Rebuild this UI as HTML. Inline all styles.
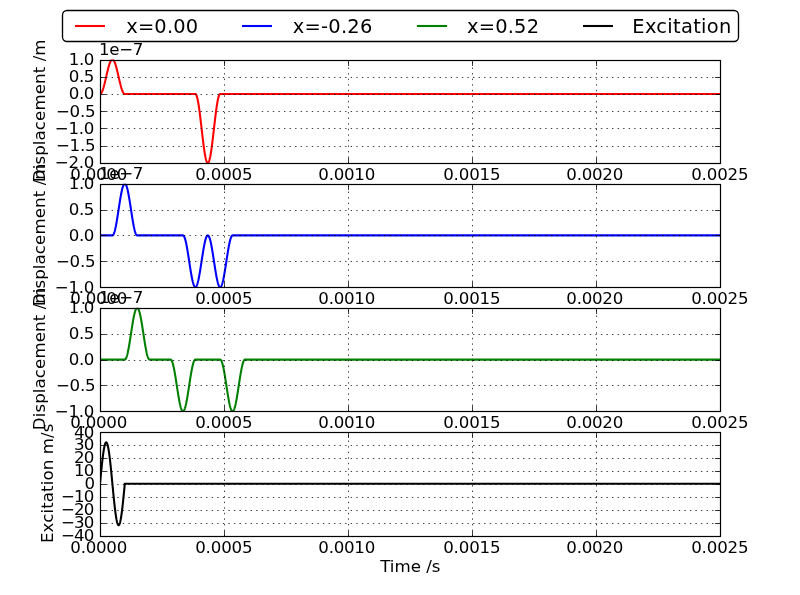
<!DOCTYPE html>
<html><head><meta charset="utf-8"><title>Displacement plot</title>
<style>html,body{margin:0;padding:0;background:#fff;}svg{display:block;}</style></head>
<body>
<svg width="800" height="595" viewBox="0 0 800 595" font-family="'DejaVu Sans','Liberation Sans',sans-serif" font-size="16.67px" fill="#000">
<rect width="800" height="595" fill="#fff"/>
<clipPath id="c0"><rect x="100.0" y="59.50" width="620.0" height="103.48"/></clipPath>
<path d="M100.00,93.99 L100.12,93.98 L100.25,93.96 L100.37,93.92 L100.50,93.86 L100.62,93.78 L100.74,93.69 L100.87,93.58 L100.99,93.45 L101.12,93.31 L101.24,93.15 L101.36,92.97 L101.49,92.78 L101.61,92.57 L101.74,92.35 L101.86,92.11 L101.98,91.86 L102.11,91.59 L102.23,91.31 L102.36,91.01 L102.48,90.70 L102.60,90.37 L102.73,90.03 L102.85,89.68 L102.98,89.32 L103.10,88.94 L103.22,88.55 L103.35,88.15 L103.47,87.74 L103.60,87.32 L103.72,86.88 L103.84,86.44 L103.97,85.99 L104.09,85.53 L104.22,85.05 L104.34,84.58 L104.46,84.09 L104.59,83.60 L104.71,83.10 L104.84,82.59 L104.96,82.08 L105.08,81.56 L105.21,81.04 L105.33,80.51 L105.46,79.98 L105.58,79.44 L105.70,78.91 L105.83,78.37 L105.95,77.83 L106.08,77.29 L106.20,76.75 L106.32,76.20 L106.45,75.66 L106.57,75.12 L106.70,74.58 L106.82,74.05 L106.94,73.51 L107.07,72.98 L107.19,72.46 L107.32,71.93 L107.44,71.42 L107.56,70.90 L107.69,70.40 L107.81,69.90 L107.94,69.40 L108.06,68.92 L108.18,68.44 L108.31,67.97 L108.43,67.51 L108.56,67.05 L108.68,66.61 L108.80,66.18 L108.93,65.75 L109.05,65.34 L109.18,64.94 L109.30,64.55 L109.42,64.17 L109.55,63.81 L109.67,63.46 L109.80,63.12 L109.92,62.79 L110.04,62.48 L110.17,62.18 L110.29,61.90 L110.42,61.63 L110.54,61.38 L110.66,61.14 L110.79,60.92 L110.91,60.71 L111.04,60.52 L111.16,60.34 L111.28,60.18 L111.41,60.04 L111.53,59.92 L111.66,59.81 L111.78,59.71 L111.90,59.64 L112.03,59.58 L112.15,59.53 L112.28,59.51 L112.40,59.50 L112.52,59.51 L112.65,59.53 L112.77,59.58 L112.90,59.64 L113.02,59.71 L113.14,59.81 L113.27,59.92 L113.39,60.04 L113.52,60.18 L113.64,60.34 L113.76,60.52 L113.89,60.71 L114.01,60.92 L114.14,61.14 L114.26,61.38 L114.38,61.63 L114.51,61.90 L114.63,62.18 L114.76,62.48 L114.88,62.79 L115.00,63.12 L115.13,63.46 L115.25,63.81 L115.38,64.17 L115.50,64.55 L115.62,64.94 L115.75,65.34 L115.87,65.75 L116.00,66.18 L116.12,66.61 L116.24,67.05 L116.37,67.51 L116.49,67.97 L116.62,68.44 L116.74,68.92 L116.86,69.40 L116.99,69.90 L117.11,70.40 L117.24,70.90 L117.36,71.42 L117.48,71.93 L117.61,72.46 L117.73,72.98 L117.86,73.51 L117.98,74.05 L118.10,74.58 L118.23,75.12 L118.35,75.66 L118.48,76.20 L118.60,76.75 L118.72,77.29 L118.85,77.83 L118.97,78.37 L119.10,78.91 L119.22,79.44 L119.34,79.98 L119.47,80.51 L119.59,81.04 L119.72,81.56 L119.84,82.08 L119.96,82.59 L120.09,83.10 L120.21,83.60 L120.34,84.09 L120.46,84.58 L120.58,85.05 L120.71,85.53 L120.83,85.99 L120.96,86.44 L121.08,86.88 L121.20,87.32 L121.33,87.74 L121.45,88.15 L121.58,88.55 L121.70,88.94 L121.82,89.32 L121.95,89.68 L122.07,90.03 L122.20,90.37 L122.32,90.70 L122.44,91.01 L122.57,91.31 L122.69,91.59 L122.82,91.86 L122.94,92.11 L123.06,92.35 L123.19,92.57 L123.31,92.78 L123.44,92.97 L123.56,93.15 L123.68,93.31 L123.81,93.45 L123.93,93.58 L124.06,93.69 L124.18,93.78 L124.30,93.86 L124.43,93.92 L124.55,93.96 L124.68,93.98 L124.80,93.99 L195.36,93.99 L195.48,94.00 L195.60,94.05 L195.73,94.12 L195.85,94.23 L195.98,94.38 L196.10,94.56 L196.22,94.77 L196.35,95.02 L196.47,95.29 L196.60,95.60 L196.72,95.95 L196.84,96.32 L196.97,96.73 L197.09,97.17 L197.22,97.64 L197.34,98.14 L197.46,98.67 L197.59,99.23 L197.71,99.82 L197.84,100.43 L197.96,101.08 L198.08,101.75 L198.21,102.45 L198.33,103.17 L198.46,103.92 L198.58,104.69 L198.70,105.49 L198.83,106.31 L198.95,107.15 L199.08,108.01 L199.20,108.89 L199.32,109.79 L199.45,110.71 L199.57,111.65 L199.70,112.60 L199.82,113.57 L199.94,114.56 L200.07,115.56 L200.19,116.57 L200.32,117.59 L200.44,118.62 L200.56,119.67 L200.69,120.72 L200.81,121.78 L200.94,122.84 L201.06,123.91 L201.18,124.99 L201.31,126.07 L201.43,127.15 L201.56,128.24 L201.68,129.32 L201.80,130.40 L201.93,131.48 L202.05,132.56 L202.18,133.63 L202.30,134.70 L202.42,135.77 L202.55,136.82 L202.67,137.87 L202.80,138.91 L202.92,139.93 L203.04,140.95 L203.17,141.95 L203.29,142.95 L203.42,143.92 L203.54,144.88 L203.66,145.83 L203.79,146.76 L203.91,147.67 L204.04,148.56 L204.16,149.43 L204.28,150.28 L204.41,151.11 L204.53,151.91 L204.66,152.70 L204.78,153.46 L204.90,154.19 L205.03,154.90 L205.15,155.59 L205.28,156.24 L205.40,156.87 L205.52,157.47 L205.65,158.05 L205.77,158.59 L205.90,159.10 L206.02,159.59 L206.14,160.04 L206.27,160.46 L206.39,160.85 L206.52,161.21 L206.64,161.54 L206.76,161.83 L206.89,162.09 L207.01,162.32 L207.14,162.51 L207.26,162.67 L207.38,162.80 L207.51,162.89 L207.63,162.95 L207.76,162.98 L207.88,162.97 L208.00,162.92 L208.13,162.85 L208.25,162.74 L208.38,162.59 L208.50,162.41 L208.62,162.20 L208.75,161.96 L208.87,161.68 L209.00,161.37 L209.12,161.02 L209.24,160.65 L209.37,160.24 L209.49,159.80 L209.62,159.33 L209.74,158.83 L209.86,158.30 L209.99,157.74 L210.11,157.15 L210.24,156.54 L210.36,155.89 L210.48,155.22 L210.61,154.52 L210.73,153.80 L210.86,153.05 L210.98,152.28 L211.10,151.48 L211.23,150.66 L211.35,149.82 L211.48,148.96 L211.60,148.08 L211.72,147.18 L211.85,146.26 L211.97,145.32 L212.10,144.37 L212.22,143.40 L212.34,142.41 L212.47,141.42 L212.59,140.40 L212.72,139.38 L212.84,138.35 L212.96,137.31 L213.09,136.25 L213.21,135.19 L213.34,134.13 L213.46,133.06 L213.58,131.98 L213.71,130.90 L213.83,129.82 L213.96,128.74 L214.08,127.65 L214.20,126.57 L214.33,125.49 L214.45,124.41 L214.58,123.34 L214.70,122.27 L214.82,121.21 L214.95,120.15 L215.07,119.10 L215.20,118.06 L215.32,117.04 L215.44,116.02 L215.57,115.02 L215.69,114.03 L215.82,113.05 L215.94,112.09 L216.06,111.14 L216.19,110.21 L216.31,109.31 L216.44,108.41 L216.56,107.54 L216.68,106.69 L216.81,105.86 L216.93,105.06 L217.06,104.27 L217.18,103.51 L217.30,102.78 L217.43,102.07 L217.55,101.38 L217.68,100.73 L217.80,100.10 L217.92,99.50 L218.05,98.92 L218.17,98.38 L218.30,97.87 L218.42,97.38 L218.54,96.93 L218.67,96.51 L218.79,96.12 L218.92,95.76 L219.04,95.43 L219.16,95.14 L219.29,94.88 L219.41,94.65 L219.54,94.46 L219.66,94.30 L219.78,94.17 L219.91,94.08 L220.03,94.02 L220.16,93.99 L220.28,93.99 L720.00,93.99" fill="none" stroke="#ff0000" stroke-width="2.08" stroke-linejoin="miter" stroke-miterlimit="4" clip-path="url(#c0)"/>
<path d="M224.5,163.5V60.5M348.5,163.5V60.5M472.5,163.5V60.5M596.5,163.5V60.5M100.5,77.5H720.5M100.5,94.5H720.5M100.5,111.5H720.5M100.5,128.5H720.5M100.5,146.5H720.5" fill="none" stroke="#000" stroke-width="0.75" stroke-dasharray="1.39,4.17"/>
<path d="M100.5,163.5v-5.56M100.5,60.5v5.56M224.5,163.5v-5.56M224.5,60.5v5.56M348.5,163.5v-5.56M348.5,60.5v5.56M472.5,163.5v-5.56M472.5,60.5v5.56M596.5,163.5v-5.56M596.5,60.5v5.56M720.5,163.5v-5.56M720.5,60.5v5.56M100.5,60.5h5.56M720.5,60.5h-5.56M100.5,77.5h5.56M720.5,77.5h-5.56M100.5,94.5h5.56M720.5,94.5h-5.56M100.5,111.5h5.56M720.5,111.5h-5.56M100.5,128.5h5.56M720.5,128.5h-5.56M100.5,146.5h5.56M720.5,146.5h-5.56M100.5,163.5h5.56M720.5,163.5h-5.56" fill="none" stroke="#000" stroke-width="0.75"/>
<rect x="100.5" y="60.5" width="620.0" height="103.0" fill="none" stroke="#000" stroke-width="1.2"/>
<text x="68.69" y="65.00" textLength="25.71">1.0</text>
<text x="68.69" y="82.25" textLength="25.71">0.5</text>
<text x="68.69" y="99.49" textLength="25.71">0.0</text>
<text x="55.92" y="116.74" textLength="39.68">−0.5</text>
<text x="54.72" y="133.99" textLength="39.68">−1.0</text>
<text x="55.92" y="151.23" textLength="39.68">−1.5</text>
<text x="54.72" y="168.48" textLength="39.68">−2.0</text>
<text x="70.34" y="179.80" textLength="56.93">0.0000</text>
<text x="195.14" y="179.80" textLength="57.53">0.0005</text>
<text x="318.34" y="179.80" textLength="56.93">0.0010</text>
<text x="443.14" y="179.80" textLength="57.53">0.0015</text>
<text x="566.34" y="179.80" textLength="56.93">0.0020</text>
<text x="691.14" y="179.80" textLength="57.53">0.0025</text>
<text x="99.00" y="55.00" textLength="44.44">1e−7</text>
<text transform="translate(44.5,110.80) rotate(-90)" x="-71.43" y="0" textLength="142.85">Displacement /m</text>
<clipPath id="c1"><rect x="100.0" y="183.67" width="620.0" height="103.48"/></clipPath>
<path d="M100.00,235.41 L112.40,235.41 L112.52,235.40 L112.65,235.36 L112.77,235.30 L112.90,235.21 L113.02,235.09 L113.14,234.95 L113.27,234.79 L113.39,234.60 L113.52,234.39 L113.64,234.15 L113.76,233.88 L113.89,233.60 L114.01,233.29 L114.14,232.95 L114.26,232.59 L114.38,232.21 L114.51,231.81 L114.63,231.39 L114.76,230.94 L114.88,230.47 L115.00,229.98 L115.13,229.48 L115.25,228.95 L115.38,228.40 L115.50,227.84 L115.62,227.25 L115.75,226.65 L115.87,226.03 L116.00,225.40 L116.12,224.75 L116.24,224.08 L116.37,223.41 L116.49,222.71 L116.62,222.01 L116.74,221.29 L116.86,220.56 L116.99,219.82 L117.11,219.07 L117.24,218.31 L117.36,217.54 L117.48,216.76 L117.61,215.98 L117.73,215.19 L117.86,214.39 L117.98,213.59 L118.10,212.79 L118.23,211.98 L118.35,211.17 L118.48,210.36 L118.60,209.54 L118.72,208.73 L118.85,207.92 L118.97,207.11 L119.10,206.30 L119.22,205.50 L119.34,204.70 L119.47,203.90 L119.59,203.11 L119.72,202.33 L119.84,201.55 L119.96,200.78 L120.09,200.02 L120.21,199.27 L120.34,198.53 L120.46,197.80 L120.58,197.08 L120.71,196.37 L120.83,195.68 L120.96,195.00 L121.08,194.34 L121.20,193.69 L121.33,193.05 L121.45,192.44 L121.58,191.83 L121.70,191.25 L121.82,190.69 L121.95,190.14 L122.07,189.61 L122.20,189.10 L122.32,188.61 L122.44,188.15 L122.57,187.70 L122.69,187.28 L122.82,186.87 L122.94,186.49 L123.06,186.14 L123.19,185.80 L123.31,185.49 L123.44,185.20 L123.56,184.94 L123.68,184.70 L123.81,184.49 L123.93,184.30 L124.06,184.13 L124.18,183.99 L124.30,183.88 L124.43,183.79 L124.55,183.72 L124.68,183.69 L124.80,183.67 L124.92,183.69 L125.05,183.72 L125.17,183.79 L125.30,183.88 L125.42,183.99 L125.54,184.13 L125.67,184.30 L125.79,184.49 L125.92,184.70 L126.04,184.94 L126.16,185.20 L126.29,185.49 L126.41,185.80 L126.54,186.14 L126.66,186.49 L126.78,186.87 L126.91,187.28 L127.03,187.70 L127.16,188.15 L127.28,188.61 L127.40,189.10 L127.53,189.61 L127.65,190.14 L127.78,190.69 L127.90,191.25 L128.02,191.83 L128.15,192.44 L128.27,193.05 L128.40,193.69 L128.52,194.34 L128.64,195.00 L128.77,195.68 L128.89,196.37 L129.02,197.08 L129.14,197.80 L129.26,198.53 L129.39,199.27 L129.51,200.02 L129.64,200.78 L129.76,201.55 L129.88,202.33 L130.01,203.11 L130.13,203.90 L130.26,204.70 L130.38,205.50 L130.50,206.30 L130.63,207.11 L130.75,207.92 L130.88,208.73 L131.00,209.54 L131.12,210.36 L131.25,211.17 L131.37,211.98 L131.50,212.79 L131.62,213.59 L131.74,214.39 L131.87,215.19 L131.99,215.98 L132.12,216.76 L132.24,217.54 L132.36,218.31 L132.49,219.07 L132.61,219.82 L132.74,220.56 L132.86,221.29 L132.98,222.01 L133.11,222.71 L133.23,223.41 L133.36,224.08 L133.48,224.75 L133.60,225.40 L133.73,226.03 L133.85,226.65 L133.98,227.25 L134.10,227.84 L134.22,228.40 L134.35,228.95 L134.47,229.48 L134.60,229.98 L134.72,230.47 L134.84,230.94 L134.97,231.39 L135.09,231.81 L135.22,232.21 L135.34,232.59 L135.46,232.95 L135.59,233.29 L135.71,233.60 L135.84,233.88 L135.96,234.15 L136.08,234.39 L136.21,234.60 L136.33,234.79 L136.46,234.95 L136.58,235.09 L136.70,235.21 L136.83,235.30 L136.95,235.36 L137.08,235.40 L137.20,235.41 L182.96,235.41 L183.08,235.42 L183.20,235.45 L183.33,235.51 L183.45,235.59 L183.58,235.70 L183.70,235.84 L183.82,236.00 L183.95,236.18 L184.07,236.39 L184.20,236.62 L184.32,236.88 L184.44,237.16 L184.57,237.47 L184.69,237.80 L184.82,238.15 L184.94,238.52 L185.06,238.92 L185.19,239.34 L185.31,239.78 L185.44,240.24 L185.56,240.73 L185.68,241.23 L185.81,241.75 L185.93,242.30 L186.06,242.86 L186.18,243.44 L186.30,244.03 L186.43,244.65 L186.55,245.28 L186.68,245.93 L186.80,246.59 L186.92,247.26 L187.05,247.95 L187.17,248.66 L187.30,249.37 L187.42,250.10 L187.54,250.84 L187.67,251.59 L187.79,252.34 L187.92,253.11 L188.04,253.89 L188.16,254.67 L188.29,255.46 L188.41,256.25 L188.54,257.05 L188.66,257.85 L188.78,258.66 L188.91,259.47 L189.03,260.28 L189.16,261.10 L189.28,261.91 L189.40,262.72 L189.53,263.53 L189.65,264.34 L189.78,265.14 L189.90,265.95 L190.02,266.74 L190.15,267.53 L190.27,268.32 L190.40,269.10 L190.52,269.87 L190.64,270.63 L190.77,271.38 L190.89,272.13 L191.02,272.86 L191.14,273.58 L191.26,274.29 L191.39,274.99 L191.51,275.67 L191.64,276.34 L191.76,276.99 L191.88,277.63 L192.01,278.25 L192.13,278.85 L192.26,279.44 L192.38,280.01 L192.50,280.56 L192.63,281.10 L192.75,281.61 L192.88,282.10 L193.00,282.57 L193.12,283.02 L193.25,283.45 L193.37,283.86 L193.50,284.25 L193.62,284.61 L193.74,284.95 L193.87,285.27 L193.99,285.56 L194.12,285.83 L194.24,286.07 L194.36,286.29 L194.49,286.49 L194.61,286.66 L194.74,286.80 L194.86,286.92 L194.98,287.02 L195.11,287.09 L195.23,287.13 L195.36,287.15 L195.48,287.14 L195.60,287.11 L195.73,287.05 L195.85,286.97 L195.98,286.86 L196.10,286.73 L196.22,286.57 L196.35,286.39 L196.47,286.18 L196.60,285.94 L196.72,285.69 L196.84,285.40 L196.97,285.10 L197.09,284.77 L197.22,284.42 L197.34,284.04 L197.46,283.64 L197.59,283.22 L197.71,282.78 L197.84,282.32 L197.96,281.84 L198.08,281.33 L198.21,280.81 L198.33,280.27 L198.46,279.71 L198.58,279.13 L198.70,278.53 L198.83,277.92 L198.95,277.29 L199.08,276.64 L199.20,275.98 L199.32,275.30 L199.45,274.61 L199.57,273.91 L199.70,273.19 L199.82,272.47 L199.94,271.73 L200.07,270.98 L200.19,270.22 L200.32,269.45 L200.44,268.68 L200.56,267.90 L200.69,267.11 L200.81,266.31 L200.94,265.51 L201.06,264.71 L201.18,263.90 L201.31,263.09 L201.43,262.28 L201.56,261.47 L201.68,260.66 L201.80,259.85 L201.93,259.03 L202.05,258.23 L202.18,257.42 L202.30,256.62 L202.42,255.82 L202.55,255.03 L202.67,254.25 L202.80,253.47 L202.92,252.70 L203.04,251.93 L203.17,251.18 L203.29,250.44 L203.42,249.71 L203.54,248.98 L203.66,248.28 L203.79,247.58 L203.91,246.90 L204.04,246.23 L204.16,245.58 L204.28,244.94 L204.41,244.32 L204.53,243.71 L204.66,243.12 L204.78,242.55 L204.90,242.00 L205.03,241.47 L205.15,240.96 L205.28,240.46 L205.40,239.99 L205.52,239.54 L205.65,239.11 L205.77,238.70 L205.90,238.32 L206.02,237.96 L206.14,237.62 L206.27,237.30 L206.39,237.01 L206.52,236.74 L206.64,236.49 L206.76,236.27 L206.89,236.08 L207.01,235.91 L207.14,235.76 L207.26,235.64 L207.38,235.55 L207.51,235.48 L207.63,235.43 L207.76,235.41 L207.88,235.42 L208.00,235.45 L208.13,235.51 L208.25,235.59 L208.38,235.70 L208.50,235.84 L208.62,236.00 L208.75,236.18 L208.87,236.39 L209.00,236.62 L209.12,236.88 L209.24,237.16 L209.37,237.47 L209.49,237.80 L209.62,238.15 L209.74,238.52 L209.86,238.92 L209.99,239.34 L210.11,239.78 L210.24,240.24 L210.36,240.73 L210.48,241.23 L210.61,241.75 L210.73,242.30 L210.86,242.86 L210.98,243.44 L211.10,244.03 L211.23,244.65 L211.35,245.28 L211.48,245.93 L211.60,246.59 L211.72,247.26 L211.85,247.95 L211.97,248.66 L212.10,249.37 L212.22,250.10 L212.34,250.84 L212.47,251.59 L212.59,252.34 L212.72,253.11 L212.84,253.89 L212.96,254.67 L213.09,255.46 L213.21,256.25 L213.34,257.05 L213.46,257.85 L213.58,258.66 L213.71,259.47 L213.83,260.28 L213.96,261.10 L214.08,261.91 L214.20,262.72 L214.33,263.53 L214.45,264.34 L214.58,265.14 L214.70,265.95 L214.82,266.74 L214.95,267.53 L215.07,268.32 L215.20,269.10 L215.32,269.87 L215.44,270.63 L215.57,271.38 L215.69,272.13 L215.82,272.86 L215.94,273.58 L216.06,274.29 L216.19,274.99 L216.31,275.67 L216.44,276.34 L216.56,276.99 L216.68,277.63 L216.81,278.25 L216.93,278.85 L217.06,279.44 L217.18,280.01 L217.30,280.56 L217.43,281.10 L217.55,281.61 L217.68,282.10 L217.80,282.57 L217.92,283.02 L218.05,283.45 L218.17,283.86 L218.30,284.25 L218.42,284.61 L218.54,284.95 L218.67,285.27 L218.79,285.56 L218.92,285.83 L219.04,286.07 L219.16,286.29 L219.29,286.49 L219.41,286.66 L219.54,286.80 L219.66,286.92 L219.78,287.02 L219.91,287.09 L220.03,287.13 L220.16,287.15 L220.28,287.14 L220.40,287.11 L220.53,287.05 L220.65,286.97 L220.78,286.86 L220.90,286.73 L221.02,286.57 L221.15,286.39 L221.27,286.18 L221.40,285.94 L221.52,285.69 L221.64,285.40 L221.77,285.10 L221.89,284.77 L222.02,284.42 L222.14,284.04 L222.26,283.64 L222.39,283.22 L222.51,282.78 L222.64,282.32 L222.76,281.84 L222.88,281.33 L223.01,280.81 L223.13,280.27 L223.26,279.71 L223.38,279.13 L223.50,278.53 L223.63,277.92 L223.75,277.29 L223.88,276.64 L224.00,275.98 L224.12,275.30 L224.25,274.61 L224.37,273.91 L224.50,273.19 L224.62,272.47 L224.74,271.73 L224.87,270.98 L224.99,270.22 L225.12,269.45 L225.24,268.68 L225.36,267.90 L225.49,267.11 L225.61,266.31 L225.74,265.51 L225.86,264.71 L225.98,263.90 L226.11,263.09 L226.23,262.28 L226.36,261.47 L226.48,260.66 L226.60,259.85 L226.73,259.03 L226.85,258.23 L226.98,257.42 L227.10,256.62 L227.22,255.82 L227.35,255.03 L227.47,254.25 L227.60,253.47 L227.72,252.70 L227.84,251.93 L227.97,251.18 L228.09,250.44 L228.22,249.71 L228.34,248.98 L228.46,248.28 L228.59,247.58 L228.71,246.90 L228.84,246.23 L228.96,245.58 L229.08,244.94 L229.21,244.32 L229.33,243.71 L229.46,243.12 L229.58,242.55 L229.70,242.00 L229.83,241.47 L229.95,240.96 L230.08,240.46 L230.20,239.99 L230.32,239.54 L230.45,239.11 L230.57,238.70 L230.70,238.32 L230.82,237.96 L230.94,237.62 L231.07,237.30 L231.19,237.01 L231.32,236.74 L231.44,236.49 L231.56,236.27 L231.69,236.08 L231.81,235.91 L231.94,235.76 L232.06,235.64 L232.18,235.55 L232.31,235.48 L232.43,235.43 L232.56,235.41 L232.68,235.41 L720.00,235.41" fill="none" stroke="#0000ff" stroke-width="2.08" stroke-linejoin="miter" stroke-miterlimit="4" clip-path="url(#c1)"/>
<path d="M224.5,287.5V184.5M348.5,287.5V184.5M472.5,287.5V184.5M596.5,287.5V184.5M100.5,210.5H720.5M100.5,235.5H720.5M100.5,261.5H720.5" fill="none" stroke="#000" stroke-width="0.75" stroke-dasharray="1.39,4.17"/>
<path d="M100.5,287.5v-5.56M100.5,184.5v5.56M224.5,287.5v-5.56M224.5,184.5v5.56M348.5,287.5v-5.56M348.5,184.5v5.56M472.5,287.5v-5.56M472.5,184.5v5.56M596.5,287.5v-5.56M596.5,184.5v5.56M720.5,287.5v-5.56M720.5,184.5v5.56M100.5,184.5h5.56M720.5,184.5h-5.56M100.5,210.5h5.56M720.5,210.5h-5.56M100.5,235.5h5.56M720.5,235.5h-5.56M100.5,261.5h5.56M720.5,261.5h-5.56M100.5,287.5h5.56M720.5,287.5h-5.56" fill="none" stroke="#000" stroke-width="0.75"/>
<rect x="100.5" y="184.5" width="620.0" height="103.0" fill="none" stroke="#000" stroke-width="1.2"/>
<text x="68.69" y="189.17" textLength="25.71">1.0</text>
<text x="68.69" y="215.04" textLength="25.71">0.5</text>
<text x="68.69" y="240.91" textLength="25.71">0.0</text>
<text x="55.92" y="266.78" textLength="39.68">−0.5</text>
<text x="54.72" y="292.65" textLength="39.68">−1.0</text>
<text x="70.34" y="303.80" textLength="56.93">0.0000</text>
<text x="195.14" y="303.80" textLength="57.53">0.0005</text>
<text x="318.34" y="303.80" textLength="56.93">0.0010</text>
<text x="443.14" y="303.80" textLength="57.53">0.0015</text>
<text x="566.34" y="303.80" textLength="56.93">0.0020</text>
<text x="691.14" y="303.80" textLength="57.53">0.0025</text>
<text x="99.00" y="179.00" textLength="44.44">1e−7</text>
<text transform="translate(44.5,234.80) rotate(-90)" x="-71.43" y="0" textLength="142.85">Displacement /m</text>
<clipPath id="c2"><rect x="100.0" y="307.85" width="620.0" height="103.48"/></clipPath>
<path d="M100.00,359.59 L124.80,359.59 L124.92,359.57 L125.05,359.54 L125.17,359.47 L125.30,359.38 L125.42,359.27 L125.54,359.13 L125.67,358.96 L125.79,358.77 L125.92,358.56 L126.04,358.32 L126.16,358.06 L126.29,357.77 L126.41,357.46 L126.54,357.12 L126.66,356.77 L126.78,356.39 L126.91,355.98 L127.03,355.56 L127.16,355.11 L127.28,354.65 L127.40,354.16 L127.53,353.65 L127.65,353.12 L127.78,352.58 L127.90,352.01 L128.02,351.43 L128.15,350.83 L128.27,350.21 L128.40,349.57 L128.52,348.92 L128.64,348.26 L128.77,347.58 L128.89,346.89 L129.02,346.18 L129.14,345.46 L129.26,344.73 L129.39,343.99 L129.51,343.24 L129.64,342.48 L129.76,341.71 L129.88,340.93 L130.01,340.15 L130.13,339.36 L130.26,338.56 L130.38,337.76 L130.50,336.96 L130.63,336.15 L130.75,335.34 L130.88,334.53 L131.00,333.72 L131.12,332.90 L131.25,332.09 L131.37,331.28 L131.50,330.48 L131.62,329.67 L131.74,328.87 L131.87,328.07 L131.99,327.28 L132.12,326.50 L132.24,325.72 L132.36,324.95 L132.49,324.19 L132.61,323.44 L132.74,322.70 L132.86,321.97 L132.98,321.25 L133.11,320.55 L133.23,319.86 L133.36,319.18 L133.48,318.51 L133.60,317.86 L133.73,317.23 L133.85,316.61 L133.98,316.01 L134.10,315.42 L134.22,314.86 L134.35,314.31 L134.47,313.78 L134.60,313.28 L134.72,312.79 L134.84,312.32 L134.97,311.87 L135.09,311.45 L135.22,311.05 L135.34,310.67 L135.46,310.31 L135.59,309.98 L135.71,309.66 L135.84,309.38 L135.96,309.11 L136.08,308.88 L136.21,308.66 L136.33,308.47 L136.46,308.31 L136.58,308.17 L136.70,308.05 L136.83,307.96 L136.95,307.90 L137.08,307.86 L137.20,307.85 L137.32,307.86 L137.45,307.90 L137.57,307.96 L137.70,308.05 L137.82,308.17 L137.94,308.31 L138.07,308.47 L138.19,308.66 L138.32,308.88 L138.44,309.11 L138.56,309.38 L138.69,309.66 L138.81,309.98 L138.94,310.31 L139.06,310.67 L139.18,311.05 L139.31,311.45 L139.43,311.87 L139.56,312.32 L139.68,312.79 L139.80,313.28 L139.93,313.78 L140.05,314.31 L140.18,314.86 L140.30,315.42 L140.42,316.01 L140.55,316.61 L140.67,317.23 L140.80,317.86 L140.92,318.51 L141.04,319.18 L141.17,319.86 L141.29,320.55 L141.42,321.25 L141.54,321.97 L141.66,322.70 L141.79,323.44 L141.91,324.19 L142.04,324.95 L142.16,325.72 L142.28,326.50 L142.41,327.28 L142.53,328.07 L142.66,328.87 L142.78,329.67 L142.90,330.48 L143.03,331.28 L143.15,332.09 L143.28,332.90 L143.40,333.72 L143.52,334.53 L143.65,335.34 L143.77,336.15 L143.90,336.96 L144.02,337.76 L144.14,338.56 L144.27,339.36 L144.39,340.15 L144.52,340.93 L144.64,341.71 L144.76,342.48 L144.89,343.24 L145.01,343.99 L145.14,344.73 L145.26,345.46 L145.38,346.18 L145.51,346.89 L145.63,347.58 L145.76,348.26 L145.88,348.92 L146.00,349.57 L146.13,350.21 L146.25,350.83 L146.38,351.43 L146.50,352.01 L146.62,352.58 L146.75,353.12 L146.87,353.65 L147.00,354.16 L147.12,354.65 L147.24,355.11 L147.37,355.56 L147.49,355.98 L147.62,356.39 L147.74,356.77 L147.86,357.12 L147.99,357.46 L148.11,357.77 L148.24,358.06 L148.36,358.32 L148.48,358.56 L148.61,358.77 L148.73,358.96 L148.86,359.13 L148.98,359.27 L149.10,359.38 L149.23,359.47 L149.35,359.54 L149.48,359.57 L149.60,359.59 L170.56,359.59 L170.68,359.59 L170.80,359.63 L170.93,359.68 L171.05,359.77 L171.18,359.88 L171.30,360.01 L171.42,360.17 L171.55,360.35 L171.67,360.56 L171.80,360.80 L171.92,361.05 L172.04,361.34 L172.17,361.64 L172.29,361.97 L172.42,362.32 L172.54,362.70 L172.66,363.09 L172.79,363.51 L172.91,363.96 L173.04,364.42 L173.16,364.90 L173.28,365.40 L173.41,365.93 L173.53,366.47 L173.66,367.03 L173.78,367.61 L173.90,368.21 L174.03,368.82 L174.15,369.45 L174.28,370.10 L174.40,370.76 L174.52,371.44 L174.65,372.13 L174.77,372.83 L174.90,373.55 L175.02,374.27 L175.14,375.01 L175.27,375.76 L175.39,376.52 L175.52,377.28 L175.64,378.06 L175.76,378.84 L175.89,379.63 L176.01,380.42 L176.14,381.22 L176.26,382.03 L176.38,382.84 L176.51,383.65 L176.63,384.46 L176.76,385.27 L176.88,386.08 L177.00,386.89 L177.13,387.70 L177.25,388.51 L177.38,389.32 L177.50,390.12 L177.62,390.92 L177.75,391.71 L177.87,392.49 L178.00,393.27 L178.12,394.04 L178.24,394.81 L178.37,395.56 L178.49,396.30 L178.62,397.03 L178.74,397.75 L178.86,398.46 L178.99,399.16 L179.11,399.84 L179.24,400.51 L179.36,401.16 L179.48,401.80 L179.61,402.42 L179.73,403.03 L179.86,403.62 L179.98,404.19 L180.10,404.74 L180.23,405.27 L180.35,405.78 L180.48,406.27 L180.60,406.75 L180.72,407.20 L180.85,407.63 L180.97,408.04 L181.10,408.42 L181.22,408.78 L181.34,409.12 L181.47,409.44 L181.59,409.73 L181.72,410.00 L181.84,410.25 L181.96,410.47 L182.09,410.66 L182.21,410.83 L182.34,410.98 L182.46,411.10 L182.58,411.19 L182.71,411.26 L182.83,411.31 L182.96,411.33 L183.08,411.32 L183.20,411.29 L183.33,411.23 L183.45,411.14 L183.58,411.04 L183.70,410.90 L183.82,410.74 L183.95,410.56 L184.07,410.35 L184.20,410.12 L184.32,409.86 L184.44,409.58 L184.57,409.27 L184.69,408.94 L184.82,408.59 L184.94,408.22 L185.06,407.82 L185.19,407.40 L185.31,406.96 L185.44,406.50 L185.56,406.01 L185.68,405.51 L185.81,404.99 L185.93,404.44 L186.06,403.88 L186.18,403.30 L186.30,402.70 L186.43,402.09 L186.55,401.46 L186.68,400.81 L186.80,400.15 L186.92,399.48 L187.05,398.79 L187.17,398.08 L187.30,397.37 L187.42,396.64 L187.54,395.90 L187.67,395.15 L187.79,394.40 L187.92,393.63 L188.04,392.85 L188.16,392.07 L188.29,391.28 L188.41,390.49 L188.54,389.69 L188.66,388.88 L188.78,388.08 L188.91,387.27 L189.03,386.46 L189.16,385.64 L189.28,384.83 L189.40,384.02 L189.53,383.21 L189.65,382.40 L189.78,381.59 L189.90,380.79 L190.02,380.00 L190.15,379.20 L190.27,378.42 L190.40,377.64 L190.52,376.87 L190.64,376.11 L190.77,375.35 L190.89,374.61 L191.02,373.88 L191.14,373.16 L191.26,372.45 L191.39,371.75 L191.51,371.07 L191.64,370.40 L191.76,369.75 L191.88,369.11 L192.01,368.49 L192.13,367.88 L192.26,367.30 L192.38,366.73 L192.50,366.18 L192.63,365.64 L192.75,365.13 L192.88,364.64 L193.00,364.17 L193.12,363.72 L193.25,363.29 L193.37,362.88 L193.50,362.49 L193.62,362.13 L193.74,361.79 L193.87,361.47 L193.99,361.18 L194.12,360.91 L194.24,360.67 L194.36,360.45 L194.49,360.25 L194.61,360.08 L194.74,359.94 L194.86,359.82 L194.98,359.72 L195.11,359.65 L195.23,359.61 L195.36,359.59 L195.48,359.59 L220.16,359.59 L220.28,359.59 L220.40,359.63 L220.53,359.68 L220.65,359.77 L220.78,359.88 L220.90,360.01 L221.02,360.17 L221.15,360.35 L221.27,360.56 L221.40,360.80 L221.52,361.05 L221.64,361.34 L221.77,361.64 L221.89,361.97 L222.02,362.32 L222.14,362.70 L222.26,363.09 L222.39,363.51 L222.51,363.96 L222.64,364.42 L222.76,364.90 L222.88,365.40 L223.01,365.93 L223.13,366.47 L223.26,367.03 L223.38,367.61 L223.50,368.21 L223.63,368.82 L223.75,369.45 L223.88,370.10 L224.00,370.76 L224.12,371.44 L224.25,372.13 L224.37,372.83 L224.50,373.55 L224.62,374.27 L224.74,375.01 L224.87,375.76 L224.99,376.52 L225.12,377.28 L225.24,378.06 L225.36,378.84 L225.49,379.63 L225.61,380.42 L225.74,381.22 L225.86,382.03 L225.98,382.84 L226.11,383.65 L226.23,384.46 L226.36,385.27 L226.48,386.08 L226.60,386.89 L226.73,387.70 L226.85,388.51 L226.98,389.32 L227.10,390.12 L227.22,390.92 L227.35,391.71 L227.47,392.49 L227.60,393.27 L227.72,394.04 L227.84,394.81 L227.97,395.56 L228.09,396.30 L228.22,397.03 L228.34,397.75 L228.46,398.46 L228.59,399.16 L228.71,399.84 L228.84,400.51 L228.96,401.16 L229.08,401.80 L229.21,402.42 L229.33,403.03 L229.46,403.62 L229.58,404.19 L229.70,404.74 L229.83,405.27 L229.95,405.78 L230.08,406.27 L230.20,406.75 L230.32,407.20 L230.45,407.63 L230.57,408.04 L230.70,408.42 L230.82,408.78 L230.94,409.12 L231.07,409.44 L231.19,409.73 L231.32,410.00 L231.44,410.25 L231.56,410.47 L231.69,410.66 L231.81,410.83 L231.94,410.98 L232.06,411.10 L232.18,411.19 L232.31,411.26 L232.43,411.31 L232.56,411.33 L232.68,411.32 L232.80,411.29 L232.93,411.23 L233.05,411.14 L233.18,411.04 L233.30,410.90 L233.42,410.74 L233.55,410.56 L233.67,410.35 L233.80,410.12 L233.92,409.86 L234.04,409.58 L234.17,409.27 L234.29,408.94 L234.42,408.59 L234.54,408.22 L234.66,407.82 L234.79,407.40 L234.91,406.96 L235.04,406.50 L235.16,406.01 L235.28,405.51 L235.41,404.99 L235.53,404.44 L235.66,403.88 L235.78,403.30 L235.90,402.70 L236.03,402.09 L236.15,401.46 L236.28,400.81 L236.40,400.15 L236.52,399.48 L236.65,398.79 L236.77,398.08 L236.90,397.37 L237.02,396.64 L237.14,395.90 L237.27,395.15 L237.39,394.40 L237.52,393.63 L237.64,392.85 L237.76,392.07 L237.89,391.28 L238.01,390.49 L238.14,389.69 L238.26,388.88 L238.38,388.08 L238.51,387.27 L238.63,386.46 L238.76,385.64 L238.88,384.83 L239.00,384.02 L239.13,383.21 L239.25,382.40 L239.38,381.59 L239.50,380.79 L239.62,380.00 L239.75,379.20 L239.87,378.42 L240.00,377.64 L240.12,376.87 L240.24,376.11 L240.37,375.35 L240.49,374.61 L240.62,373.88 L240.74,373.16 L240.86,372.45 L240.99,371.75 L241.11,371.07 L241.24,370.40 L241.36,369.75 L241.48,369.11 L241.61,368.49 L241.73,367.88 L241.86,367.30 L241.98,366.73 L242.10,366.18 L242.23,365.64 L242.35,365.13 L242.48,364.64 L242.60,364.17 L242.72,363.72 L242.85,363.29 L242.97,362.88 L243.10,362.49 L243.22,362.13 L243.34,361.79 L243.47,361.47 L243.59,361.18 L243.72,360.91 L243.84,360.67 L243.96,360.45 L244.09,360.25 L244.21,360.08 L244.34,359.94 L244.46,359.82 L244.58,359.72 L244.71,359.65 L244.83,359.61 L244.96,359.59 L245.08,359.59 L720.00,359.59" fill="none" stroke="#008000" stroke-width="2.08" stroke-linejoin="miter" stroke-miterlimit="4" clip-path="url(#c2)"/>
<path d="M224.5,411.5V308.5M348.5,411.5V308.5M472.5,411.5V308.5M596.5,411.5V308.5M100.5,334.5H720.5M100.5,360.5H720.5M100.5,385.5H720.5" fill="none" stroke="#000" stroke-width="0.75" stroke-dasharray="1.39,4.17"/>
<path d="M100.5,411.5v-5.56M100.5,308.5v5.56M224.5,411.5v-5.56M224.5,308.5v5.56M348.5,411.5v-5.56M348.5,308.5v5.56M472.5,411.5v-5.56M472.5,308.5v5.56M596.5,411.5v-5.56M596.5,308.5v5.56M720.5,411.5v-5.56M720.5,308.5v5.56M100.5,308.5h5.56M720.5,308.5h-5.56M100.5,334.5h5.56M720.5,334.5h-5.56M100.5,360.5h5.56M720.5,360.5h-5.56M100.5,385.5h5.56M720.5,385.5h-5.56M100.5,411.5h5.56M720.5,411.5h-5.56" fill="none" stroke="#000" stroke-width="0.75"/>
<rect x="100.5" y="308.5" width="620.0" height="103.0" fill="none" stroke="#000" stroke-width="1.2"/>
<text x="68.69" y="313.35" textLength="25.71">1.0</text>
<text x="68.69" y="339.22" textLength="25.71">0.5</text>
<text x="68.69" y="365.09" textLength="25.71">0.0</text>
<text x="55.92" y="390.96" textLength="39.68">−0.5</text>
<text x="54.72" y="416.83" textLength="39.68">−1.0</text>
<text x="70.34" y="427.80" textLength="56.93">0.0000</text>
<text x="195.14" y="427.80" textLength="57.53">0.0005</text>
<text x="318.34" y="427.80" textLength="56.93">0.0010</text>
<text x="443.14" y="427.80" textLength="57.53">0.0015</text>
<text x="566.34" y="427.80" textLength="56.93">0.0020</text>
<text x="691.14" y="427.80" textLength="57.53">0.0025</text>
<text x="99.00" y="303.00" textLength="44.44">1e−7</text>
<text transform="translate(44.5,358.80) rotate(-90)" x="-71.43" y="0" textLength="142.85">Displacement /m</text>
<clipPath id="c3"><rect x="100.0" y="432.02" width="620.0" height="103.48"/></clipPath>
<path d="M100.00,483.76 L100.12,482.46 L100.25,481.16 L100.37,479.87 L100.50,478.57 L100.62,477.29 L100.74,476.00 L100.87,474.73 L100.99,473.47 L101.12,472.21 L101.24,470.97 L101.36,469.74 L101.49,468.52 L101.61,467.32 L101.74,466.14 L101.86,464.97 L101.98,463.82 L102.11,462.69 L102.23,461.58 L102.36,460.50 L102.48,459.43 L102.60,458.39 L102.73,457.38 L102.85,456.39 L102.98,455.43 L103.10,454.49 L103.22,453.59 L103.35,452.71 L103.47,451.87 L103.60,451.06 L103.72,450.27 L103.84,449.53 L103.97,448.81 L104.09,448.13 L104.22,447.49 L104.34,446.88 L104.46,446.31 L104.59,445.77 L104.71,445.28 L104.84,444.82 L104.96,444.40 L105.08,444.01 L105.21,443.67 L105.33,443.37 L105.46,443.10 L105.58,442.88 L105.70,442.70 L105.83,442.55 L105.95,442.45 L106.08,442.39 L106.20,442.37 L106.32,442.39 L106.45,442.45 L106.57,442.55 L106.70,442.70 L106.82,442.88 L106.94,443.10 L107.07,443.37 L107.19,443.67 L107.32,444.01 L107.44,444.40 L107.56,444.82 L107.69,445.28 L107.81,445.77 L107.94,446.31 L108.06,446.88 L108.18,447.49 L108.31,448.13 L108.43,448.81 L108.56,449.53 L108.68,450.27 L108.80,451.06 L108.93,451.87 L109.05,452.71 L109.18,453.59 L109.30,454.49 L109.42,455.43 L109.55,456.39 L109.67,457.38 L109.80,458.39 L109.92,459.43 L110.04,460.50 L110.17,461.58 L110.29,462.69 L110.42,463.82 L110.54,464.97 L110.66,466.14 L110.79,467.32 L110.91,468.52 L111.04,469.74 L111.16,470.97 L111.28,472.21 L111.41,473.47 L111.53,474.73 L111.66,476.00 L111.78,477.29 L111.90,478.57 L112.03,479.87 L112.15,481.16 L112.28,482.46 L112.40,483.76 L112.52,485.06 L112.65,486.36 L112.77,487.66 L112.90,488.95 L113.02,490.24 L113.14,491.52 L113.27,492.79 L113.39,494.05 L113.52,495.31 L113.64,496.55 L113.76,497.78 L113.89,499.00 L114.01,500.20 L114.14,501.38 L114.26,502.55 L114.38,503.70 L114.51,504.83 L114.63,505.94 L114.76,507.03 L114.88,508.09 L115.00,509.13 L115.13,510.14 L115.25,511.13 L115.38,512.10 L115.50,513.03 L115.62,513.93 L115.75,514.81 L115.87,515.65 L116.00,516.47 L116.12,517.25 L116.24,517.99 L116.37,518.71 L116.49,519.39 L116.62,520.03 L116.74,520.64 L116.86,521.21 L116.99,521.75 L117.11,522.25 L117.24,522.71 L117.36,523.13 L117.48,523.51 L117.61,523.85 L117.73,524.16 L117.86,524.42 L117.98,524.64 L118.10,524.83 L118.23,524.97 L118.35,525.07 L118.48,525.13 L118.60,525.15 L118.72,525.13 L118.85,525.07 L118.97,524.97 L119.10,524.83 L119.22,524.64 L119.34,524.42 L119.47,524.16 L119.59,523.85 L119.72,523.51 L119.84,523.13 L119.96,522.71 L120.09,522.25 L120.21,521.75 L120.34,521.21 L120.46,520.64 L120.58,520.03 L120.71,519.39 L120.83,518.71 L120.96,517.99 L121.08,517.25 L121.20,516.47 L121.33,515.65 L121.45,514.81 L121.58,513.93 L121.70,513.03 L121.82,512.10 L121.95,511.13 L122.07,510.14 L122.20,509.13 L122.32,508.09 L122.44,507.03 L122.57,505.94 L122.69,504.83 L122.82,503.70 L122.94,502.55 L123.06,501.38 L123.19,500.20 L123.31,499.00 L123.44,497.78 L123.56,496.55 L123.68,495.31 L123.81,494.05 L123.93,492.79 L124.06,491.52 L124.18,490.24 L124.30,488.95 L124.43,487.66 L124.55,486.36 L124.68,485.06 L124.80,483.76 L720.00,483.76" fill="none" stroke="#000000" stroke-width="2.08" stroke-linejoin="miter" stroke-miterlimit="4" clip-path="url(#c3)"/>
<path d="M224.5,536.5V432.5M348.5,536.5V432.5M472.5,536.5V432.5M596.5,536.5V432.5M100.5,445.5H720.5M100.5,458.5H720.5M100.5,471.5H720.5M100.5,484.5H720.5M100.5,497.5H720.5M100.5,510.5H720.5M100.5,523.5H720.5" fill="none" stroke="#000" stroke-width="0.75" stroke-dasharray="1.39,4.17"/>
<path d="M100.5,536.5v-5.56M100.5,432.5v5.56M224.5,536.5v-5.56M224.5,432.5v5.56M348.5,536.5v-5.56M348.5,432.5v5.56M472.5,536.5v-5.56M472.5,432.5v5.56M596.5,536.5v-5.56M596.5,432.5v5.56M720.5,536.5v-5.56M720.5,432.5v5.56M100.5,432.5h5.56M720.5,432.5h-5.56M100.5,445.5h5.56M720.5,445.5h-5.56M100.5,458.5h5.56M720.5,458.5h-5.56M100.5,471.5h5.56M720.5,471.5h-5.56M100.5,484.5h5.56M720.5,484.5h-5.56M100.5,497.5h5.56M720.5,497.5h-5.56M100.5,510.5h5.56M720.5,510.5h-5.56M100.5,523.5h5.56M720.5,523.5h-5.56M100.5,536.5h5.56M720.5,536.5h-5.56" fill="none" stroke="#000" stroke-width="0.75"/>
<rect x="100.5" y="432.5" width="620.0" height="104.0" fill="none" stroke="#000" stroke-width="1.2"/>
<text x="73.99" y="437.52" textLength="20.41">40</text>
<text x="73.99" y="450.46" textLength="20.41">30</text>
<text x="73.99" y="463.39" textLength="20.41">20</text>
<text x="73.99" y="476.33" textLength="20.41">10</text>
<text x="84.59" y="489.26" textLength="9.81">0</text>
<text x="61.02" y="502.20" textLength="33.38">−10</text>
<text x="61.02" y="515.13" textLength="33.38">−20</text>
<text x="61.02" y="528.07" textLength="33.38">−30</text>
<text x="61.02" y="541.00" textLength="33.38">−40</text>
<text x="70.34" y="552.80" textLength="56.93">0.0000</text>
<text x="195.14" y="552.80" textLength="57.53">0.0005</text>
<text x="318.34" y="552.80" textLength="56.93">0.0010</text>
<text x="443.14" y="552.80" textLength="57.53">0.0015</text>
<text x="566.34" y="552.80" textLength="56.93">0.0020</text>
<text x="691.14" y="552.80" textLength="57.53">0.0025</text>
<text transform="translate(53.0,483.30) rotate(-90)" x="-59.76" y="0" textLength="119.52">Excitation m/s</text>
<text x="380.20" y="571.50">Time /s</text>
<rect x="62.5" y="10.5" width="676" height="31" rx="4.5" ry="4.5" fill="#fff" stroke="#000" stroke-width="1.35"/>
<path d="M75,26H105" stroke="#ff0000" stroke-width="2.08" fill="none"/>
<text x="126.20" y="32.50" font-size="19.44px" textLength="71.98">x=0.00</text>
<path d="M242,26H272" stroke="#0000ff" stroke-width="2.08" fill="none"/>
<text x="292.85" y="32.50" font-size="19.44px" textLength="79.49">x=-0.26</text>
<path d="M417,26H447" stroke="#008000" stroke-width="2.08" fill="none"/>
<text x="466.90" y="32.50" font-size="19.44px" textLength="72.18">x=0.52</text>
<path d="M583,26H613" stroke="#000000" stroke-width="2.08" fill="none"/>
<text x="632.30" y="32.50" font-size="19.44px" textLength="99.01">Excitation</text>
</svg>
</body></html>
